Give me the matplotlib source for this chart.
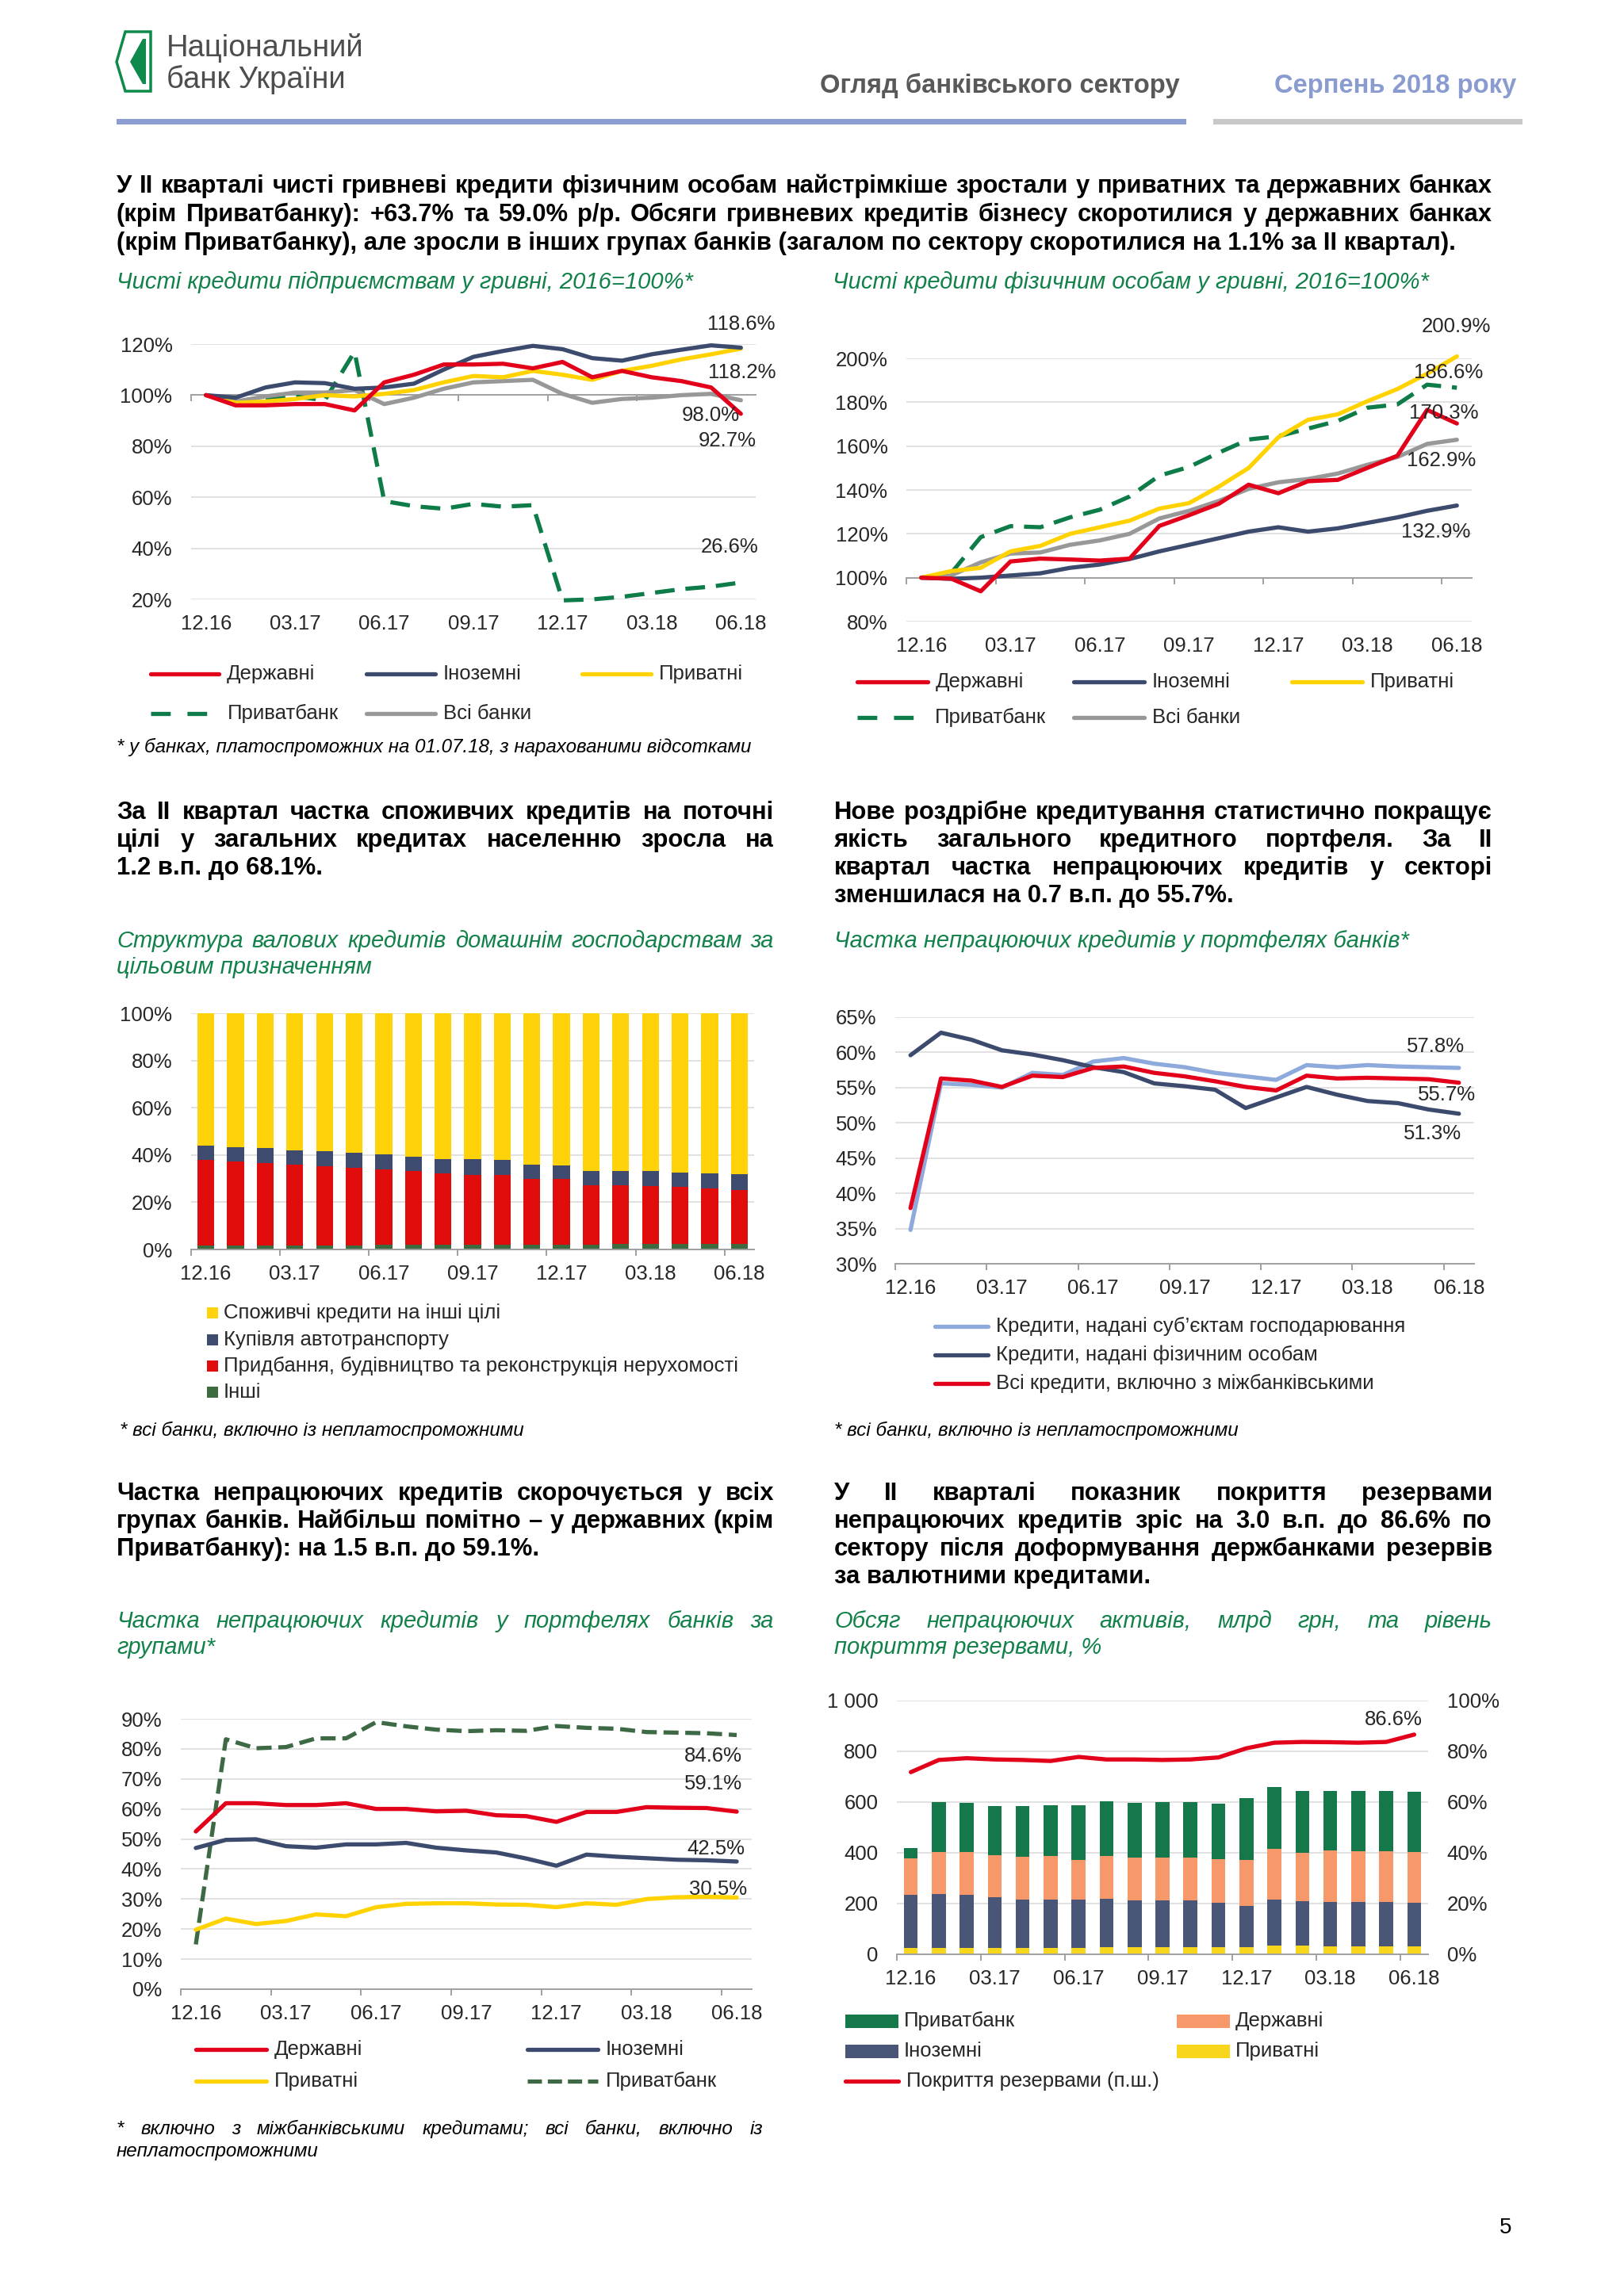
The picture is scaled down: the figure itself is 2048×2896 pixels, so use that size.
import numpy as np
import matplotlib
matplotlib.use('Agg')
import matplotlib.pyplot as plt
import matplotlib.transforms as mtransforms
from matplotlib import font_manager
from matplotlib.patches import Rectangle, Polygon

W, H = 2048, 2896

months = ['12.16', '01.17', '02.17', '03.17', '04.17', '05.17', '06.17',
          '07.17', '08.17', '09.17', '10.17', '11.17', '12.17',
          '01.18', '02.18', '03.18', '04.18', '05.18', '06.18']
tick_labels = ['12.16', '03.17', '06.17', '09.17', '12.17', '03.18', '06.18']

# chart 1: net UAH loans to corporates, 2016=100%
biz_state = [100, 96, 96, 96.5, 96.5, 94, 105, 108, 112, 112, 112.3, 110.5, 113, 107, 109.5, 107, 105.5, 103, 92.7]
biz_foreign = [100, 99, 103, 105, 104.7, 102.5, 103, 104.5, 110, 115, 117.3, 119.3, 118, 114.5, 113.5, 116, 117.8, 119.5, 118.6]
biz_private = [100, 97, 97.5, 98.5, 100, 99.5, 100.5, 102, 105, 107.5, 107, 109.5, 108, 106, 109.5, 111.5, 114, 116, 118.2]
biz_pb = [100, 97, 99, 99.5, 98, 117, 58.5, 56.5, 55.5, 57.4, 56.3, 56.9, 19.6, 20, 21, 22.5, 24, 25, 26.6]
biz_all = [100, 97.5, 99.5, 101, 101, 102, 96.5, 99, 102.5, 105, 105.5, 106, 100.5, 97, 98.5, 99, 100, 100.5, 98.0]

# chart 2: net UAH loans to households, 2016=100%
hh_state = [100, 99.6, 93.8, 107.4, 108.7, 108.3, 107.8, 108.7, 123.6, 128.5, 133.7, 142.4, 138.5, 144, 144.6, 150.1, 155.6, 176.5, 170.3]
hh_foreign = [100, 99.5, 100, 101, 102, 104.5, 106, 108.5, 112, 115, 118, 121, 123, 121, 122.5, 125, 127.5, 130.5, 132.9]
hh_private = [100, 103, 104.5, 112, 114.5, 120, 123, 126, 131.5, 134, 141.5, 150, 164, 172, 174.5, 180.5, 186, 193, 200.9]
hh_pb = [100, 102, 118.5, 123.5, 123, 127.5, 131, 137, 146.5, 150.5, 157, 163, 164.5, 168, 171.5, 177.5, 179, 188, 186.6]
hh_all = [100, 101, 107, 111, 111.5, 115, 117, 120, 127, 130.5, 135, 140.5, 143.5, 145, 147.5, 151.5, 155, 161, 162.9]

# chart 3: household loans by purpose, %
str_other = [1.8, 1.8, 1.8, 1.8, 1.8, 1.8, 1.9, 1.9, 1.9, 1.9, 1.9, 2.0, 2.1, 2.1, 2.2, 2.2, 2.2, 2.3, 2.3]
str_realty = [36.2, 35.6, 34.7, 34.1, 33.6, 32.9, 32.1, 31.4, 30.3, 29.8, 29.5, 27.7, 27.8, 25.2, 25.1, 24.6, 24.2, 23.5, 23.0]
str_auto = [5.9, 6.0, 6.3, 5.9, 6.1, 6.2, 6.4, 6.1, 6.2, 6.5, 6.4, 6.3, 5.8, 6.0, 6.0, 6.3, 6.3, 6.3, 6.6]
str_consumer = [56.1, 56.6, 57.2, 58.2, 58.5, 59.1, 59.6, 60.6, 61.6, 61.8, 62.2, 64.0, 64.3, 66.7, 66.7, 66.9, 67.3, 67.9, 68.1]

# chart 4: NPL share, %
npl_corp = [34.8, 55.6, 55.4, 55.0, 57.1, 56.8, 58.7, 59.2, 58.4, 57.9, 57.1, 56.6, 56.1, 58.2, 57.9, 58.2, 58.0, 57.9, 57.8]
npl_hh = [59.6, 62.8, 61.8, 60.3, 59.7, 58.9, 57.9, 57.2, 55.6, 55.2, 54.7, 52.1, 53.6, 55.1, 54.0, 53.1, 52.8, 51.9, 51.3]
npl_total = [37.9, 56.3, 56.0, 55.1, 56.7, 56.5, 57.8, 58.0, 57.1, 56.6, 55.9, 55.1, 54.6, 56.7, 56.3, 56.4, 56.3, 56.2, 55.7]

# chart 5: NPL share by bank group, %
grp_state = [52.5, 61.9, 61.9, 61.3, 61.3, 61.9, 60.0, 60.0, 59.2, 59.4, 57.9, 57.6, 55.7, 59.0, 59.0, 60.6, 60.4, 60.3, 59.1]
grp_foreign = [47.0, 49.7, 49.9, 47.6, 47.1, 48.2, 48.2, 48.7, 47.1, 46.2, 45.5, 43.5, 41.1, 44.8, 44.1, 43.6, 43.1, 42.9, 42.5]
grp_private = [19.8, 23.5, 21.7, 22.7, 24.9, 24.3, 27.3, 28.4, 28.6, 28.6, 28.2, 28.1, 27.3, 28.6, 28.1, 30.0, 30.6, 30.8, 30.5]
grp_pb = [14.9, 83.2, 80.2, 80.6, 83.5, 83.5, 88.9, 87.5, 86.4, 85.9, 86.2, 86.0, 87.6, 87.0, 86.7, 85.6, 85.4, 85.2, 84.6]

# chart 6: NPL volume, UAH bn, and provision coverage, %
vol_private = [25, 26, 25, 26, 24, 25, 25, 27, 29, 29, 29, 29, 29, 33, 33, 32, 32, 32, 30]
vol_foreign = [208, 210, 209, 198, 193, 192, 191, 193, 183, 184, 182, 174, 163, 184, 177, 175, 173, 173, 174]
vol_state = [145, 168, 168, 168, 167, 169, 156, 166, 168, 169, 171, 171, 180, 198, 191, 201, 202, 201, 198]
vol_pb = [41, 196, 194, 193, 201, 201, 215, 217, 216, 218, 218, 219, 243, 245, 242, 237, 236, 237, 238]
coverage = [71.8, 76.6, 77.3, 76.8, 76.6, 76.2, 77.8, 76.8, 76.8, 76.6, 76.8, 77.6, 81.2, 83.4, 83.7, 83.6, 83.4, 83.7, 86.6]

installed = {f.name for f in font_manager.fontManager.ttflist}
BASE = 'Liberation Sans' if 'Liberation Sans' in installed else 'DejaVu Sans'
NARROW = 'Liberation Sans Narrow' if 'Liberation Sans Narrow' in installed else BASE
plt.rcParams['font.family'] = [BASE, 'DejaVu Sans']

RED = '#E2001A'
NAVY = '#3C4A6E'
YELLOW = '#FFD200'
GREEN = '#0E7C48'
DKGREEN = '#3D6A45'
GREY = '#989898'
LTBLUE = '#8EA9DB'
ORANGE = '#F7986A'
GRID = '#D9D9D9'
AXIS = '#A0A0A0'
TXT = '#262626'
TITLE = '#13814A'
FS = 18.5
HFS = 22.3
LW = 3.8

fig = plt.figure(figsize=(W / 100, H / 100), dpi=100)
page = fig.add_axes([0, 0, 1, 1])
page.set_xlim(0, W)
page.set_ylim(H, 0)
page.axis('off')
renderer = fig.canvas.get_renderer()


def text_line(x0, x1, y, s, justify=True, **kw):
    if not justify:
        page.text(x0, y, s, ha='left', va='baseline', **kw)
        return
    words = s.split(' ')
    arts = [page.text(0, y, w, ha='left', va='baseline', **kw) for w in words]
    widths = [a.get_window_extent(renderer).width for a in arts]
    gap = (x1 - x0 - sum(widths)) / (len(words) - 1)
    x = x0
    for a, w in zip(arts, widths):
        a.set_x(x)
        x += w + gap


def paragraph(x0, x1, y0, step, lines, **kw):
    for k, s in enumerate(lines):
        text_line(x0, x1, y0 + k * step, s, justify=(k < len(lines) - 1), **kw)


bold = dict(fontsize=HFS, fontweight='bold', color='black')
green_it = dict(fontsize=21, style='italic', color=TITLE)
note = dict(fontsize=17.4, style='italic', color='black')

# ---- header ----
page.add_patch(Polygon([(158, 40), (190, 40), (190, 115), (158, 115), (147, 78)],
                       closed=True, fill=False, ec='#0E8A4A', lw=2.5))
page.add_patch(Polygon([(180, 49), (184, 49), (184, 106), (180, 106), (164, 78)],
                       closed=True, fc='#0E8A4A', ec='none'))
page.text(210, 71, 'Національний', fontsize=27.5, family=NARROW, color='#4D4D4D', va='baseline')
page.text(210, 111, 'банк України', fontsize=27.5, family=NARROW, color='#4D4D4D', va='baseline')
page.text(1488, 117, 'Огляд банківського сектору', fontsize=23.6, fontweight='bold',
          color='#595959', ha='right', va='baseline')
page.text(1912, 117, 'Серпень 2018 року', fontsize=23.6, fontweight='bold',
          color='#8A9BD0', ha='right', va='baseline')
page.add_patch(Rectangle((147, 150), 1349, 7, fc='#8C9DD1', ec='none'))
page.add_patch(Rectangle((1530, 150), 390, 7, fc='#C8C8C8', ec='none'))

paragraph(147, 1882, 243, 36, [
    'У ІІ кварталі чисті гривневі кредити фізичним особам найстрімкіше зростали у приватних та державних банках',
    '(крім Приватбанку): +63.7% та 59.0% р/р. Обсяги гривневих кредитів бізнесу скоротилися у державних банках',
    '(крім Приватбанку), але зросли в інших групах банків (загалом по сектору скоротилися на 1.1% за ІІ квартал).'],
    **bold)
text_line(147, 0, 364, 'Чисті кредити підприємствам у гривні, 2016=100%*', justify=False, **green_it)
text_line(1050, 0, 364, 'Чисті кредити фізичним особам у гривні, 2016=100%*', justify=False, **green_it)
text_line(147, 0, 949, '* у банках, платоспроможних на 01.07.18, з нарахованими відсотками',
          justify=False, **note)

paragraph(147, 976, 1033, 35, [
    'За ІІ квартал частка споживчих кредитів на поточні',
    'цілі у загальних кредитах населенню зросла на',
    '1.2 в.п. до 68.1%.'], **bold)
paragraph(1052, 1882, 1033, 35, [
    'Нове роздрібне кредитування статистично покращує',
    'якість загального кредитного портфеля. За ІІ',
    'квартал частка непрацюючих кредитів у секторі',
    'зменшилася на 0.7 в.п. до 55.7%.'], **bold)
paragraph(147, 976, 1195, 33, [
    'Структура валових кредитів домашнім господарствам за',
    'цільовим призначенням'], **green_it)
text_line(1052, 0, 1195, 'Частка непрацюючих кредитів у портфелях банків*', justify=False, **green_it)
text_line(151, 0, 1811, '* всі банки, включно із неплатоспроможними', justify=False, **note)
text_line(1052, 0, 1811, '* всі банки, включно із неплатоспроможними', justify=False, **note)

paragraph(147, 976, 1892, 35, [
    'Частка непрацюючих кредитів скорочується у всіх',
    'групах банків. Найбільш помітно – у державних (крім',
    'Приватбанку): на 1.5 в.п. до 59.1%.'], **bold)
paragraph(1052, 1882, 1892, 35, [
    'У ІІ кварталі показник покриття резервами',
    'непрацюючих кредитів зріс на 3.0 в.п. до 86.6% по',
    'сектору після доформування держбанками резервів',
    'за валютними кредитами.'], **bold)
paragraph(147, 976, 2053, 33, [
    'Частка непрацюючих кредитів у портфелях банків за',
    'групами*'], **green_it)
paragraph(1052, 1882, 2053, 33, [
    'Обсяг непрацюючих активів, млрд грн, та рівень',
    'покриття резервами, %'], **green_it)
paragraph(147, 962, 2692, 28, [
    '* включно з міжбанківськими кредитами; всі банки, включно із',
    'неплатоспроможними'], **note)
page.text(1899, 2817, '5', fontsize=20, family=NARROW, ha='center', va='baseline', color='black')


# ---- legend helpers (page pixel coordinates) ----
def leg_line(x0, x1, y, label, color, dashes=None):
    ln, = page.plot([x0, x1], [y, y], color=color, lw=LW, solid_capstyle='round')
    if dashes:
        ln.set_dashes(dashes)
    page.text(x1 + 10, y + 7, label, fontsize=FS, color=TXT, va='baseline')


def leg_box(x0, x1, y, label, color, h=16):
    page.add_patch(Rectangle((x0, y - h / 2), x1 - x0, h, fc=color, ec='none'))
    page.text(x1 + 7, y + 7, label, fontsize=FS, color=TXT, va='baseline')


# ---- chart helpers ----
def make_axes(l, t, r, b):
    return fig.add_axes([l / W, 1 - b / H, (r - l) / W, (b - t) / H])


def setup(ax, ylim, yticks, ylabels, base=None):
    n = len(months)
    ax.set_xlim(-0.5, n - 0.5)
    ax.set_ylim(*ylim)
    ax.set_yticks(yticks, ylabels)
    ax.tick_params(axis='y', length=0, pad=17, labelsize=FS, labelcolor=TXT)
    ax.set_xticks(np.arange(-0.5, n - 1, 3), [])
    ax.tick_params(axis='x', length=6, width=1.4, color=AXIS, direction='out')
    for s in ('left', 'right', 'top'):
        ax.spines[s].set_visible(False)
    ax.spines['bottom'].set_color(AXIS)
    ax.spines['bottom'].set_linewidth(1.4)
    if base is not None:
        ax.spines['bottom'].set_position(('data', base))
    ax.grid(axis='y', color=GRID, lw=1.1)
    ax.set_axisbelow(True)
    ax.patch.set_alpha(0)
    tr = mtransforms.offset_copy(
        mtransforms.blended_transform_factory(ax.transData, ax.transAxes),
        fig=fig, y=-31, units='dots')
    for i, lab in zip(range(0, n, 3), tick_labels):
        ax.text(i, 0, lab, transform=tr, ha='center', va='center', fontsize=FS, color=TXT)


def plot_line(ax, vals, color, dashes=None):
    ln, = ax.plot(np.arange(len(vals)), vals, color=color, lw=LW, zorder=3,
                  clip_on=False, solid_capstyle='round', solid_joinstyle='round')
    if dashes:
        ln.set_dashes(dashes)
    return ln


def pct(vals):
    return ['%d%%' % v for v in vals]


x = np.arange(len(months))

# ---- chart 1 ----
ax1 = make_axes(241, 434, 953, 756)
setup(ax1, (20, 120), np.arange(20, 121, 20), pct(np.arange(20, 121, 20)), base=100)
plot_line(ax1, biz_pb, GREEN, dashes=(4.7, 2.6))
plot_line(ax1, biz_all, GREY)
plot_line(ax1, biz_private, YELLOW)
plot_line(ax1, biz_foreign, NAVY)
plot_line(ax1, biz_state, RED)
for xx, yy, s in [(18.0, 127.8, '118.6%'), (18.05, 108.8, '118.2%'), (16.98, 92.0, '98.0%'),
                  (17.54, 82.1, '92.7%'), (17.63, 40.5, '26.6%')]:
    ax1.text(xx, yy, s, ha='center', va='center', fontsize=FS, color=TXT, zorder=5)
leg_line(190, 276, 850, 'Державні', RED)
leg_line(462, 549, 850, 'Іноземні', NAVY)
leg_line(734, 821, 850, 'Приватні', YELLOW)
leg_line(190, 277, 900, 'Приватбанк', GREEN, dashes=(4.7, 4.0))
leg_line(462, 549, 900, 'Всі банки', GREY)

# ---- chart 2 ----
ax2 = make_axes(1143, 452, 1856, 784)
setup(ax2, (80, 200), np.arange(80, 201, 20), pct(np.arange(80, 201, 20)), base=100)
plot_line(ax2, hh_pb, GREEN, dashes=(4.7, 2.6))
plot_line(ax2, hh_all, GREY)
plot_line(ax2, hh_foreign, NAVY)
plot_line(ax2, hh_private, YELLOW)
plot_line(ax2, hh_state, RED)
for xx, yy, s in [(17.97, 214.4, '200.9%'), (17.73, 193.5, '186.6%'), (17.57, 175.1, '170.3%'),
                  (17.49, 153.4, '162.9%'), (17.3, 121.0, '132.9%')]:
    ax2.text(xx, yy, s, ha='center', va='center', fontsize=FS, color=TXT, zorder=5)
leg_line(1081, 1170, 860, 'Державні', RED)
leg_line(1354, 1443, 860, 'Іноземні', NAVY)
leg_line(1629, 1718, 860, 'Приватні', YELLOW)
leg_line(1081, 1169, 905, 'Приватбанк', GREEN, dashes=(4.7, 4.0))
leg_line(1354, 1443, 905, 'Всі банки', GREY)

# ---- chart 3 ----
ax3 = make_axes(241, 1278, 951, 1576)
setup(ax3, (0, 100), np.arange(0, 101, 20), pct(np.arange(0, 101, 20)))
bw = 0.57
bottom = np.zeros(len(x))
for vals, color in [(str_other, '#3D6B3F'), (str_realty, '#E00B0B'),
                    (str_auto, '#3F4B6E'), (str_consumer, '#FFD20A')]:
    ax3.bar(x, vals, bw, bottom=bottom, color=color, zorder=2)
    bottom = bottom + np.array(vals)
leg_box(261, 275, 1656, 'Споживчі кредити на інші цілі', '#FFD20A', h=14)
leg_box(261, 275, 1690, 'Купівля автотранспорту', '#3F4B6E', h=14)
leg_box(261, 275, 1723, 'Придбання, будівництво та реконструкція нерухомості', '#E00B0B', h=14)
leg_box(261, 275, 1756, 'Інші', '#3D6B3F', h=14)

# ---- chart 4 ----
ax4 = make_axes(1129, 1283, 1859, 1594)
setup(ax4, (30, 65), np.arange(30, 66, 5), pct(np.arange(30, 66, 5)))
plot_line(ax4, npl_corp, LTBLUE)
plot_line(ax4, npl_hh, NAVY)
plot_line(ax4, npl_total, RED)
for xx, yy, s in [(17.25, 60.8, '57.8%'), (17.59, 54.0, '55.7%'), (17.13, 48.5, '51.3%')]:
    ax4.text(xx, yy, s, ha='center', va='center', fontsize=FS, color=TXT, zorder=5)
leg_line(1179, 1246, 1673, 'Кредити, надані суб’єктам господарювання', LTBLUE)
leg_line(1179, 1246, 1709, 'Кредити, надані фізичним особам', NAVY)
leg_line(1179, 1246, 1745, 'Всі кредити, включно з міжбанківськими', RED)

# ---- chart 5 ----
ax5 = make_axes(228, 2168, 948, 2509)
setup(ax5, (0, 90), np.arange(0, 91, 10), pct(np.arange(0, 91, 10)))
plot_line(ax5, grp_pb, DKGREEN, dashes=(3.6, 1.6))
plot_line(ax5, grp_private, YELLOW)
plot_line(ax5, grp_foreign, NAVY)
plot_line(ax5, grp_state, RED)
for xx, yy, s in [(17.23, 77.6, '84.6%'), (17.23, 68.4, '59.1%'), (17.3, 46.7, '42.5%'),
                  (17.38, 33.3, '30.5%')]:
    ax5.text(xx, yy, s, ha='center', va='center', fontsize=FS, color=TXT, zorder=5)
leg_line(247, 336, 2585, 'Державні', RED)
leg_line(665, 754, 2585, 'Іноземні', NAVY)
leg_line(247, 336, 2625, 'Приватні', YELLOW)
leg_line(665, 754, 2625, 'Приватбанк', DKGREEN, dashes=(3.4, 1.4))

# ---- chart 6 ----
ax6 = make_axes(1131, 2145, 1801, 2465)
setup(ax6, (0, 1000), np.arange(0, 1001, 200), ['0', '200', '400', '600', '800', '1 000'])
bottom = np.zeros(len(x))
for vals, color in [(vol_private, '#F7D61B'), (vol_foreign, '#4A5677'),
                    (vol_state, ORANGE), (vol_pb, '#15784A')]:
    ax6.bar(x, vals, 0.5, bottom=bottom, color=color, zorder=2)
    bottom = bottom + np.array(vals)
ax6r = ax6.twinx()
ax6r.set_ylim(0, 100)
ax6r.set_yticks(np.arange(0, 101, 20), pct(np.arange(0, 101, 20)))
ax6r.tick_params(axis='y', length=0, pad=17, labelsize=FS, labelcolor=TXT)
for s in ax6r.spines.values():
    s.set_visible(False)
ax6r.plot(x, coverage, color=RED, lw=LW, zorder=3, solid_capstyle='round', solid_joinstyle='round')
ax6r.text(17.25, 92.5, '86.6%', ha='center', va='center', fontsize=FS, color=TXT)
leg_box(1066, 1133, 2549, 'Приватбанк', '#15784A', h=17)
leg_box(1484, 1551, 2549, 'Державні', ORANGE, h=17)
leg_box(1066, 1133, 2587, 'Іноземні', '#4A5677', h=17)
leg_box(1484, 1551, 2587, 'Приватні', '#F7D61B', h=17)
leg_line(1066, 1133, 2625, 'Покриття резервами (п.ш.)', RED)

fig.savefig('out.png', dpi=100, facecolor='white')
